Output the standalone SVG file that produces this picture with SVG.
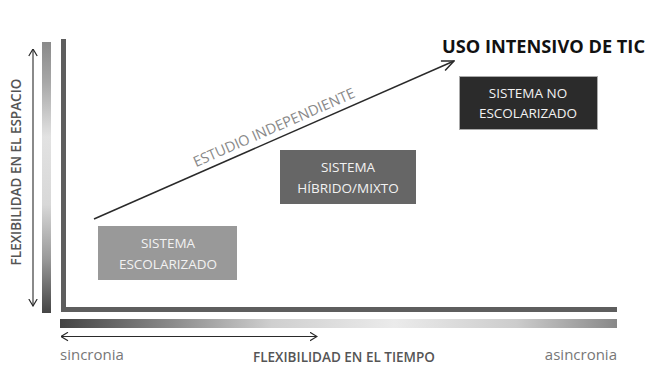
<svg xmlns="http://www.w3.org/2000/svg" width="648" height="366" viewBox="0 0 648 366">
  <defs>
    <style>
      .box-label { font-family: "Open Sans", "Liberation Sans", sans-serif; font-size: 13.5px; fill: #f2f2f2; text-anchor: middle; }
      .axis-title { font-family: "Open Sans", "Liberation Sans", sans-serif; font-size: 13.5px; font-weight: 600; fill: #555555; }
      .end-label { font-family: "Open Sans", "Liberation Sans", sans-serif; font-size: 15px; fill: #777777; }
      .conn { fill: none; stroke: #2a2a2a; }
    </style>
    <linearGradient id="gradV" x1="0" y1="0" x2="0" y2="1">
      <stop offset="0" stop-color="#8a8a8a"/>
      <stop offset="0.15" stop-color="#a8a8a8"/>
      <stop offset="0.35" stop-color="#e2e2e2"/>
      <stop offset="0.6" stop-color="#d8d8d8"/>
      <stop offset="0.8" stop-color="#9a9a9a"/>
      <stop offset="1" stop-color="#454545"/>
    </linearGradient>
    <linearGradient id="gradH" x1="0" y1="0" x2="1" y2="0">
      <stop offset="0" stop-color="#444444"/>
      <stop offset="0.2" stop-color="#8a8a8a"/>
      <stop offset="0.38" stop-color="#cfcfcf"/>
      <stop offset="0.6" stop-color="#ebebeb"/>
      <stop offset="0.82" stop-color="#cccccc"/>
      <stop offset="1" stop-color="#888888"/>
    </linearGradient>
    <marker id="chevBig" viewBox="0 0 14 12" refX="13" refY="6" markerWidth="14" markerHeight="12" markerUnits="userSpaceOnUse" orient="auto">
      <path d="M1,0.8 L13,6 L1,11.2" fill="none" stroke="#2a2a2a" stroke-width="1.5"/>
    </marker>
    <marker id="chevSmall" viewBox="0 0 8 10" refX="7.5" refY="5" markerWidth="8" markerHeight="10" markerUnits="userSpaceOnUse" orient="auto-start-reverse">
      <path d="M0.5,0.8 L7.5,5 L0.5,9.2" fill="none" stroke="#2a2a2a" stroke-width="1.2"/>
    </marker>
  </defs>

  <rect width="648" height="366" fill="#ffffff"/>

  <!-- Title -->
  <text x="645" y="53" text-anchor="end" font-family="'Open Sans', 'Liberation Sans', sans-serif" font-size="17" font-weight="700" fill="#111111" textLength="203" lengthAdjust="spacingAndGlyphs">USO INTENSIVO DE TIC</text>

  <!-- Axes -->
  <g id="axes">
    <rect x="42" y="42" width="9" height="271" fill="url(#gradV)"/>
    <polyline points="63.5,39 63.5,309.5 617,309.5" fill="none" stroke="#5e5e5e" stroke-width="5"/>
    <rect x="60" y="319" width="557" height="9" fill="url(#gradH)"/>
  </g>

  <!-- Axis labels -->
  <text class="axis-title" x="0" y="0" transform="translate(21,172) rotate(-90)" text-anchor="middle">FLEXIBILIDAD EN EL ESPACIO</text>
  <text class="axis-title" x="344" y="362" text-anchor="middle">FLEXIBILIDAD EN EL TIEMPO</text>
  <text class="end-label" x="60" y="360">sincronia</text>
  <text class="end-label" x="617" y="360" text-anchor="end">asincronia</text>

  <!-- Nodes -->
  <g id="sistema-escolarizado">
    <rect x="98" y="226" width="139" height="54" fill="#999999"/>
    <text class="box-label" x="168" y="248">SISTEMA</text>
    <text class="box-label" x="168" y="269">ESCOLARIZADO</text>
  </g>
  <g id="sistema-hibrido">
    <rect x="280" y="150" width="136" height="54" fill="#666666"/>
    <text class="box-label" x="348" y="172">SISTEMA</text>
    <text class="box-label" x="348" y="193">HÍBRIDO/MIXTO</text>
  </g>
  <g id="sistema-no-escolarizado">
    <rect x="459.5" y="76.5" width="138" height="53" fill="#2b2b2b" stroke="#aaaaaa" stroke-width="1"/>
    <text class="box-label" x="528" y="98">SISTEMA NO</text>
    <text class="box-label" x="528" y="118">ESCOLARIZADO</text>
  </g>

  <!-- Connectors -->
  <g id="connectors">
    <line class="conn" x1="94" y1="219" x2="454" y2="61" stroke-width="1.5" marker-end="url(#chevBig)"/>
    <line class="conn" x1="33" y1="49" x2="33" y2="306" stroke-width="1.1" marker-start="url(#chevSmall)" marker-end="url(#chevSmall)"/>
    <line class="conn" x1="61" y1="336.5" x2="317" y2="336.5" stroke-width="1.1" marker-start="url(#chevSmall)" marker-end="url(#chevSmall)"/>
  </g>

  <text x="0" y="0" transform="translate(276,132) rotate(-23.7)" text-anchor="middle" font-family="'Open Sans', 'Liberation Sans', sans-serif" font-size="14.5" fill="#888888">ESTUDIO INDEPENDIENTE</text>
</svg>
